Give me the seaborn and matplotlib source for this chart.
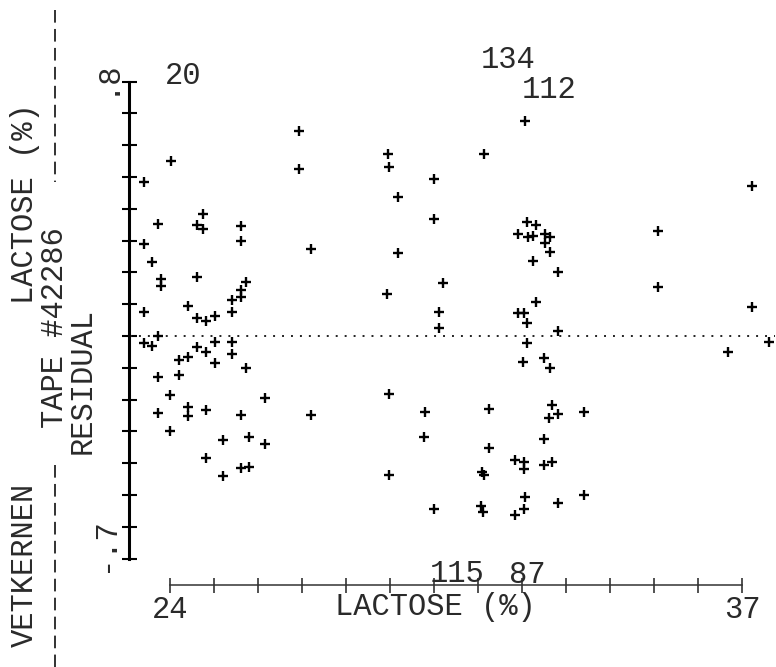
import matplotlib
matplotlib.use("Agg")
import matplotlib.pyplot as plt
import matplotlib.transforms as mtrans
import seaborn as sns
import pandas as pd
from matplotlib.lines import Line2D

# ---- data ----
lactose = [
    26.93, 24.02, 26.93, 23.41, 24.75, 23.73, 24.61, 24.75, 25.61, 25.61,
    23.41, 27.20, 23.59, 24.61, 23.80, 23.80, 25.73, 25.61, 25.61, 25.41,
    24.41, 25.41, 23.41, 24.61, 24.82, 25.02, 23.73, 23.41, 23.59, 25.02,
    25.41, 24.61, 25.41, 24.82, 24.41, 24.20, 25.02, 25.73, 23.73, 24.20,
    24.00, 26.16, 23.73, 24.41, 24.41, 24.82, 25.61, 27.20, 24.00, 25.20,
    25.80, 26.16, 24.82, 25.20, 25.61, 25.80,
    32.07, 28.95, 28.98, 31.14, 30.00, 29.18, 30.00, 32.11, 32.32, 31.91,
    32.14, 32.25, 32.52, 32.64, 32.52, 32.64, 29.18, 32.25, 32.82, 30.20,
    28.93, 32.32, 30.11, 31.91, 32.05, 32.11, 30.11, 32.82, 32.11, 32.02,
    32.50, 32.64, 28.98, 29.80, 31.25, 32.68, 32.61, 32.82, 29.77, 31.25,
    32.50, 31.84, 32.05, 32.05, 32.50, 32.68, 31.09, 31.14, 28.98, 32.07,
    32.05, 32.82, 30.00, 31.07, 31.11, 31.84,
    37.23, 35.09, 35.09, 37.23, 37.61, 36.68, 33.41, 33.41,
]
residual = [
    0.645, 0.550, 0.525, 0.484, 0.384, 0.352, 0.349, 0.336, 0.346, 0.299,
    0.289, 0.274, 0.233, 0.186, 0.179, 0.157, 0.170, 0.145, 0.123, 0.113,
    0.094, 0.075, 0.075, 0.057, 0.047, 0.063, 0.000, -0.022, -0.031, -0.019,
    -0.019, -0.035, -0.057, -0.050, -0.066, -0.075, -0.085, -0.101, -0.129, -0.123,
    -0.186, -0.195, -0.242, -0.223, -0.252, -0.233, -0.248, -0.248, -0.299, -0.327,
    -0.318, -0.340, -0.384, -0.440, -0.415, -0.412,
    0.676, 0.572, 0.531, 0.572, 0.494, 0.437, 0.368, 0.358, 0.349, 0.321,
    0.311, 0.314, 0.321, 0.311, 0.292, 0.264, 0.261, 0.236, 0.201, 0.167,
    0.132, 0.107, 0.075, 0.072, 0.072, 0.041, 0.025, 0.016, -0.022, -0.082,
    -0.069, -0.101, -0.182, -0.239, -0.230, -0.217, -0.258, -0.245, -0.318, -0.352,
    -0.324, -0.390, -0.396, -0.418, -0.406, -0.396, -0.428, -0.437, -0.437, -0.506,
    -0.544, -0.525, -0.544, -0.535, -0.553, -0.563,
    0.472, 0.330, 0.154, 0.091, -0.019, -0.050, -0.239, -0.500,
]

x_ticks = [24, 25, 26, 27, 28, 29, 30, 31, 32, 33, 34, 35, 36, 37]
x_tick_labels = ["24"] + [""] * 12 + ["37"]
y_ticks = [-0.7, -0.6, -0.5, -0.4, -0.3, -0.2, -0.1, 0.0,
           0.1, 0.2, 0.3, 0.4, 0.5, 0.6, 0.7, 0.8]
y_tick_labels = ["-.7"] + [""] * 14 + [".8"]

# off-scale observation numbers printed at the plot edges
obs_ids = ["20", "134", "112", "115", "87"]
obs_x = [24.30, 31.68, 32.61, 30.52, 32.11]
obs_y = [0.818, 0.868, 0.774, -0.748, -0.752]

x_label = "LACTOSE (%)"
y_label = "RESIDUAL"
side_texts = ["TAPE #42286", "LACTOSE (%)", "VETKERNEN"]

# ---- styling ----
sns.set_style("white")
plt.rcParams["font.family"] = ["Liberation Mono", "DejaVu Sans Mono"]
TXT = "#2a2a2a"
FS = 22

W, H = 776, 667
fig = plt.figure(figsize=(W / 100, H / 100), dpi=100)
ax = fig.add_axes([0, 0, 1, 1])
ax.set_facecolor("white")

df = pd.DataFrame({"lactose": lactose, "residual": residual})
sns.scatterplot(data=df, x="lactose", y="residual", ax=ax, marker="+",
                color="black", s=50, linewidth=1.7, legend=False, zorder=3)

ax.set_xlim(20.136, 37.773)
ax.set_ylim(-1.0409, 1.0566)

# zero reference line (dotted)
ax.axhline(0, xmin=130 / W, xmax=775 / W, color="#222222", lw=1.4,
           linestyle=(0, (1, 3.6)), zorder=2)

for s in ["top", "right"]:
    ax.spines[s].set_visible(False)
ax.spines["left"].set_position(("data", 23.07))
ax.spines["left"].set_bounds(-0.7, 0.8)
ax.spines["left"].set_linewidth(2.2)
ax.spines["left"].set_color("black")
ax.spines["bottom"].set_position(("data", -0.783))
ax.spines["bottom"].set_bounds(24, 37)
ax.spines["bottom"].set_linewidth(1.1)
ax.spines["bottom"].set_color("#333333")

ax.set_xticks(x_ticks)
ax.set_xticklabels(x_tick_labels)
ax.set_yticks(y_ticks)
ax.set_yticklabels(y_tick_labels)
ax.tick_params(axis="x", bottom=True, direction="inout", length=10.8, width=1.2,
               color="#333333", labelsize=FS, labelcolor=TXT, pad=2)
ax.tick_params(axis="y", left=True, direction="inout", length=10.8, width=1.5,
               color="black", labelsize=FS, labelcolor=TXT, pad=1,
               labelrotation=90)
shift = mtrans.ScaledTranslation(0, -13 / 100, fig.dpi_scale_trans)
for lab in ax.get_yticklabels():
    lab.set_va("bottom")
    lab.set_transform(lab.get_transform() + shift)

ax.set_xlabel(x_label, fontsize=FS, color=TXT)
ax.xaxis.set_label_coords(435 / W, 1 - 607 / H)
ax.xaxis.label.set_va("center")
ax.set_ylabel(y_label, fontsize=FS, color=TXT)
ax.yaxis.set_label_coords(83 / W, 1 - 381 / H)
ax.yaxis.label.set_va("center")

for lab, xx, yy in zip(obs_ids, obs_x, obs_y):
    ax.text(xx, yy, lab, fontsize=FS, color=TXT, ha="center", va="center")

def fpos(px, py):
    return px / W, 1 - py / H

fig.text(*fpos(55, 328), side_texts[0], rotation=90, fontsize=FS, color=TXT,
         ha="center", va="center")
fig.text(*fpos(25, 204), side_texts[1], rotation=90, fontsize=FS, color=TXT,
         ha="center", va="center")
fig.text(*fpos(25, 483), side_texts[2], rotation=90, fontsize=FS, color=TXT,
         ha="center", va="top")

for (y0, y1) in [(10, 182), (465, 667)]:
    fig.add_artist(Line2D([55 / W, 55 / W], [1 - y0 / H, 1 - y1 / H],
                          transform=fig.transFigure, color="#222222", lw=1.3,
                          linestyle=(0, (7, 3.5))))

fig.savefig("out.png", dpi=100, facecolor="white")
